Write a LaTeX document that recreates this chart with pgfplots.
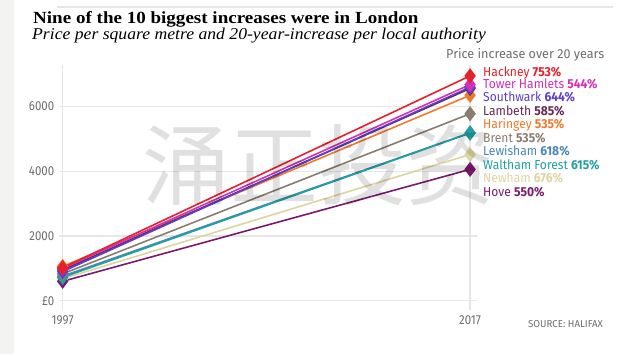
\documentclass[border=0pt]{standalone}
\usepackage{pgfplots}
\pgfplotsset{compat=1.18}
\usepackage{fontspec}
\setmainfont{Liberation Serif}
\newfontfamily\titlefont[FakeStretch=1.12]{Liberation Serif}
\newfontfamily\subfont[FakeStretch=1.07]{Liberation Serif}
\newfontfamily\labfont[FakeStretch=0.93]{Fira Sans}
\newfontfamily\tickfont[FakeStretch=0.88]{Fira Sans}
\newfontfamily\headfont[FakeStretch=0.97]{Fira Sans}
\newfontfamily\cjk{Noto Sans CJK SC}
\definecolor{cHack}{HTML}{E8202A}
\definecolor{cTow}{HTML}{D42FB5}
\definecolor{cSouth}{HTML}{5A3FD0}
\definecolor{cLam}{HTML}{6A2A55}
\definecolor{cHar}{HTML}{F07A2A}
\definecolor{cBre}{HTML}{8A7D70}
\definecolor{cLew}{HTML}{4A86B8}
\definecolor{cWal}{HTML}{20A0A0}
\definecolor{cNew}{HTML}{DDD5A0}
\definecolor{cHov}{HTML}{7A1A6E}
\definecolor{gridc}{HTML}{E6E6E6}
\definecolor{txtg}{HTML}{6E6E6E}
\definecolor{stripc}{HTML}{F3F3F1}
\begin{document}
\begin{tikzpicture}[x=1pt,y=1pt]
\useasboundingbox (0,0) rectangle (640,-354);
\fill[white] (0,0) rectangle (640,-354);
\fill[stripc] (0,0) rectangle (14,-354);
\draw[gridc,line width=1.5pt] (57,-7) -- (613,-7);
\node[anchor=base west,inner sep=0pt,font=\titlefont\bfseries\fontsize{17}{17}\selectfont] at (33,-23.5) {Nine of the 10 biggest increases were in London};
\node[anchor=base west,inner sep=0pt,font=\subfont\itshape\fontsize{16.5}{16.5}\selectfont] at (32,-39.5) {Price per square metre and 20-year-increase per local authority};
\begin{axis}[
  at={(59pt,-310pt)}, anchor=south west,
  scale only axis, width=418pt, height=245pt,
  xmin=1996.82, xmax=2017.34, ymin=-287, ymax=7286,
  axis lines=none, clip=false,
  xtick=\empty, ytick=\empty,
  mark size=6.3pt, line width=1.6pt,
]
\addplot[gridc,line width=1.2pt,forget plot,mark=none] coordinates {(1996.82,0) (2017.34,0)};
\addplot[gridc,line width=1.2pt,forget plot,mark=none] coordinates {(1996.82,2000) (2017.34,2000)};
\addplot[gridc,line width=1.2pt,forget plot,mark=none] coordinates {(1996.82,4000) (2017.34,4000)};
\addplot[gridc,line width=1.2pt,forget plot,mark=none] coordinates {(1996.82,6000) (2017.34,6000)};
\addplot[gridc,line width=1.2pt,forget plot,mark=none] coordinates {(1997,-287) (1997,7286)};
\addplot[gridc,line width=1.2pt,forget plot,mark=none] coordinates {(2017,-287) (2017,7286)};
\node[anchor=east,inner sep=0pt,font=\tickfont\fontsize{13}{13}\selectfont,text=txtg] at ([xshift=-4pt]axis cs:1996.82,6000) {6000};
\node[anchor=east,inner sep=0pt,font=\tickfont\fontsize{13}{13}\selectfont,text=txtg] at ([xshift=-4pt]axis cs:1996.82,4000) {4000};
\node[anchor=east,inner sep=0pt,font=\tickfont\fontsize{13}{13}\selectfont,text=txtg] at ([xshift=-4pt]axis cs:1996.82,2000) {2000};
\node[anchor=east,inner sep=0pt,font=\tickfont\fontsize{13}{13}\selectfont,text=txtg] at ([xshift=-4pt]axis cs:1996.82,0) {£0};
\node[anchor=base,inner sep=0pt,font=\tickfont\fontsize{13}{13}\selectfont,text=txtg] at ([yshift=-24pt]axis cs:1997,0) {1997};
\node[anchor=base,inner sep=0pt,font=\tickfont\fontsize{13}{13}\selectfont,text=txtg] at ([yshift=-24pt]axis cs:2017,0) {2017};
\addplot[cNew,mark=diamond*] coordinates {(1997,680) (2017,4520)};
\addplot[cHov,mark=diamond*] coordinates {(1997,600) (2017,4060)};
\addplot[cLew,mark=diamond*] coordinates {(1997,760) (2017,5190)};
\addplot[cWal,mark=diamond*] coordinates {(1997,720) (2017,5180)};
\addplot[cBre,mark=diamond*] coordinates {(1997,830) (2017,5780)};
\addplot[cHar,mark=diamond*] coordinates {(1997,1060) (2017,6350)};
\addplot[cLam,mark=diamond*] coordinates {(1997,950) (2017,6560)};
\addplot[cSouth,mark=diamond*] coordinates {(1997,900) (2017,6600)};
\addplot[cTow,mark=diamond*] coordinates {(1997,1000) (2017,6680)};
\addplot[cHack,mark=diamond*] coordinates {(1997,1020) (2017,6950)};
\end{axis}
\node[font=\cjk\fontsize{88}{88}\selectfont,text=black,opacity=0.12] at (318,-165) {涌正投资};
\node[anchor=base west,inner sep=0pt,font=\headfont\fontsize{13}{13}\selectfont,text=txtg] at (446,-58) {Price increase over 20 years};
\begin{scope}[every node/.style={anchor=base west,inner sep=0pt,text height=8.5pt,text depth=2.5pt,font=\labfont\fontsize{13}{13}\selectfont}]
\node[text=cHack] at (483,-76.5) {Hackney \textbf{753\%}};
\node[text=cTow] at (483,-88.5) {Tower Hamlets \textbf{544\%}};
\node[text=cSouth] at (483,-101.5) {Southwark \textbf{644\%}};
\node[text=cLam] at (483,-115.5) {Lambeth \textbf{585\%}};
\node[text=cHar] at (483,-128.5) {Haringey \textbf{535\%}};
\node[text=cBre] at (483,-142.5) {Brent \textbf{535\%}};
\node[text=cLew] at (483,-155.5) {Lewisham \textbf{618\%}};
\node[text=cWal] at (483,-169.5) {Waltham Forest \textbf{615\%}};
\node[text=cNew] at (483,-182.5) {Newham \textbf{676\%}};
\node[text=cHov] at (483,-196.5) {Hove \textbf{550\%}};
\end{scope}
\node[anchor=base west,inner sep=0pt,font=\headfont\fontsize{10}{10}\selectfont,text=txtg] at (528,-327) {SOURCE: HALIFAX};
\end{tikzpicture}
\end{document}
